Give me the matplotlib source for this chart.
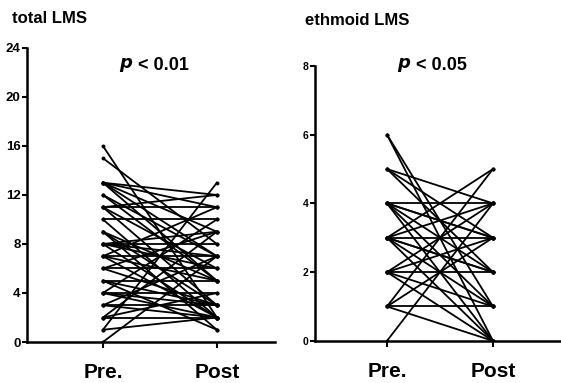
import matplotlib.pyplot as plt

plt.rcParams['font.family'] = ['Liberation Sans', 'DejaVu Sans']

# total LMS, paired pre/post scores
total_pre = [16, 15, 13, 13, 13, 13, 13, 12, 12, 11, 11, 11, 11, 10, 10, 9, 9, 9,
             8, 8, 8, 8, 8, 7, 7, 7, 7, 6, 6, 6, 5, 5, 5, 4, 4, 4, 4, 3, 3, 3,
             2, 2, 2, 1, 1, 0]
total_post = [2, 8, 12, 11, 9, 7, 5, 7, 5, 11, 12, 6, 3, 10, 2, 5, 3, 1,
              9, 8, 6, 2, 7, 7, 5, 11, 2, 6, 3, 9, 5, 1, 3, 4, 2, 10, 3, 3, 2, 7,
              2, 9, 4, 13, 2, 7]

# ethmoid LMS, paired pre/post scores
eth_pre = [6, 6, 5, 5, 5, 4, 4, 4, 4, 4, 4, 3, 3, 3, 3, 3, 3, 3, 2, 2, 2, 2, 2,
           1, 1, 1, 1, 0]
eth_post = [1, 0, 4, 3, 2, 4, 3, 2, 1, 0, 3, 3, 4, 2, 1, 5, 2, 0, 2, 4, 1, 0, 3,
            1, 0, 5, 3, 4]

groups = ['Pre.', 'Post']

fig = plt.figure(figsize=(5.61, 3.83), dpi=100)
ax1 = fig.add_axes([0.048, 0.107, 0.442, 0.768])
ax2 = fig.add_axes([0.5615, 0.110, 0.4367, 0.718])


def paired(ax, pre, post, ymax, step, tsize):
    for a, b in zip(pre, post):
        ax.plot([0, 1], [a, b], color='black', lw=1.3, marker='o', ms=1.8)
    ax.set_ylim(0, ymax)
    ax.set_yticks(range(0, ymax + 1, step))
    ax.set_xticks([0, 1])
    ax.set_xticklabels(groups, fontsize=15, fontweight='bold')
    ax.tick_params(axis='x', length=4, width=1.5, pad=11)
    ax.tick_params(axis='y', length=3.5, width=1.5, pad=1, labelsize=tsize)
    for t in ax.get_yticklabels():
        t.set_fontweight('bold')
    for s in ['top', 'right']:
        ax.spines[s].set_visible(False)
    for s in ['left', 'bottom']:
        ax.spines[s].set_linewidth(1.8)


paired(ax1, total_pre, total_post, 24, 4, 9.5)
ax1.set_xlim(-0.667, 1.509)
paired(ax2, eth_pre, eth_post, 8, 2, 7.5)
ax2.set_xlim(-0.679, 1.632)

fig.text(0.021, 0.952, 'total LMS', fontsize=12, fontweight='bold', va='center')
fig.text(0.543, 0.947, 'ethmoid LMS', fontsize=12, fontweight='bold', va='center')
fig.text(0.237, 0.83, r'$\boldsymbol{p}$', fontsize=13, va='center', ha='right')
fig.text(0.237, 0.83, ' < 0.01', fontsize=13, fontweight='bold', va='center', ha='left')
fig.text(0.733, 0.83, r'$\boldsymbol{p}$', fontsize=13, va='center', ha='right')
fig.text(0.733, 0.83, ' < 0.05', fontsize=13, fontweight='bold', va='center', ha='left')

fig.savefig('out.png', dpi=100)
